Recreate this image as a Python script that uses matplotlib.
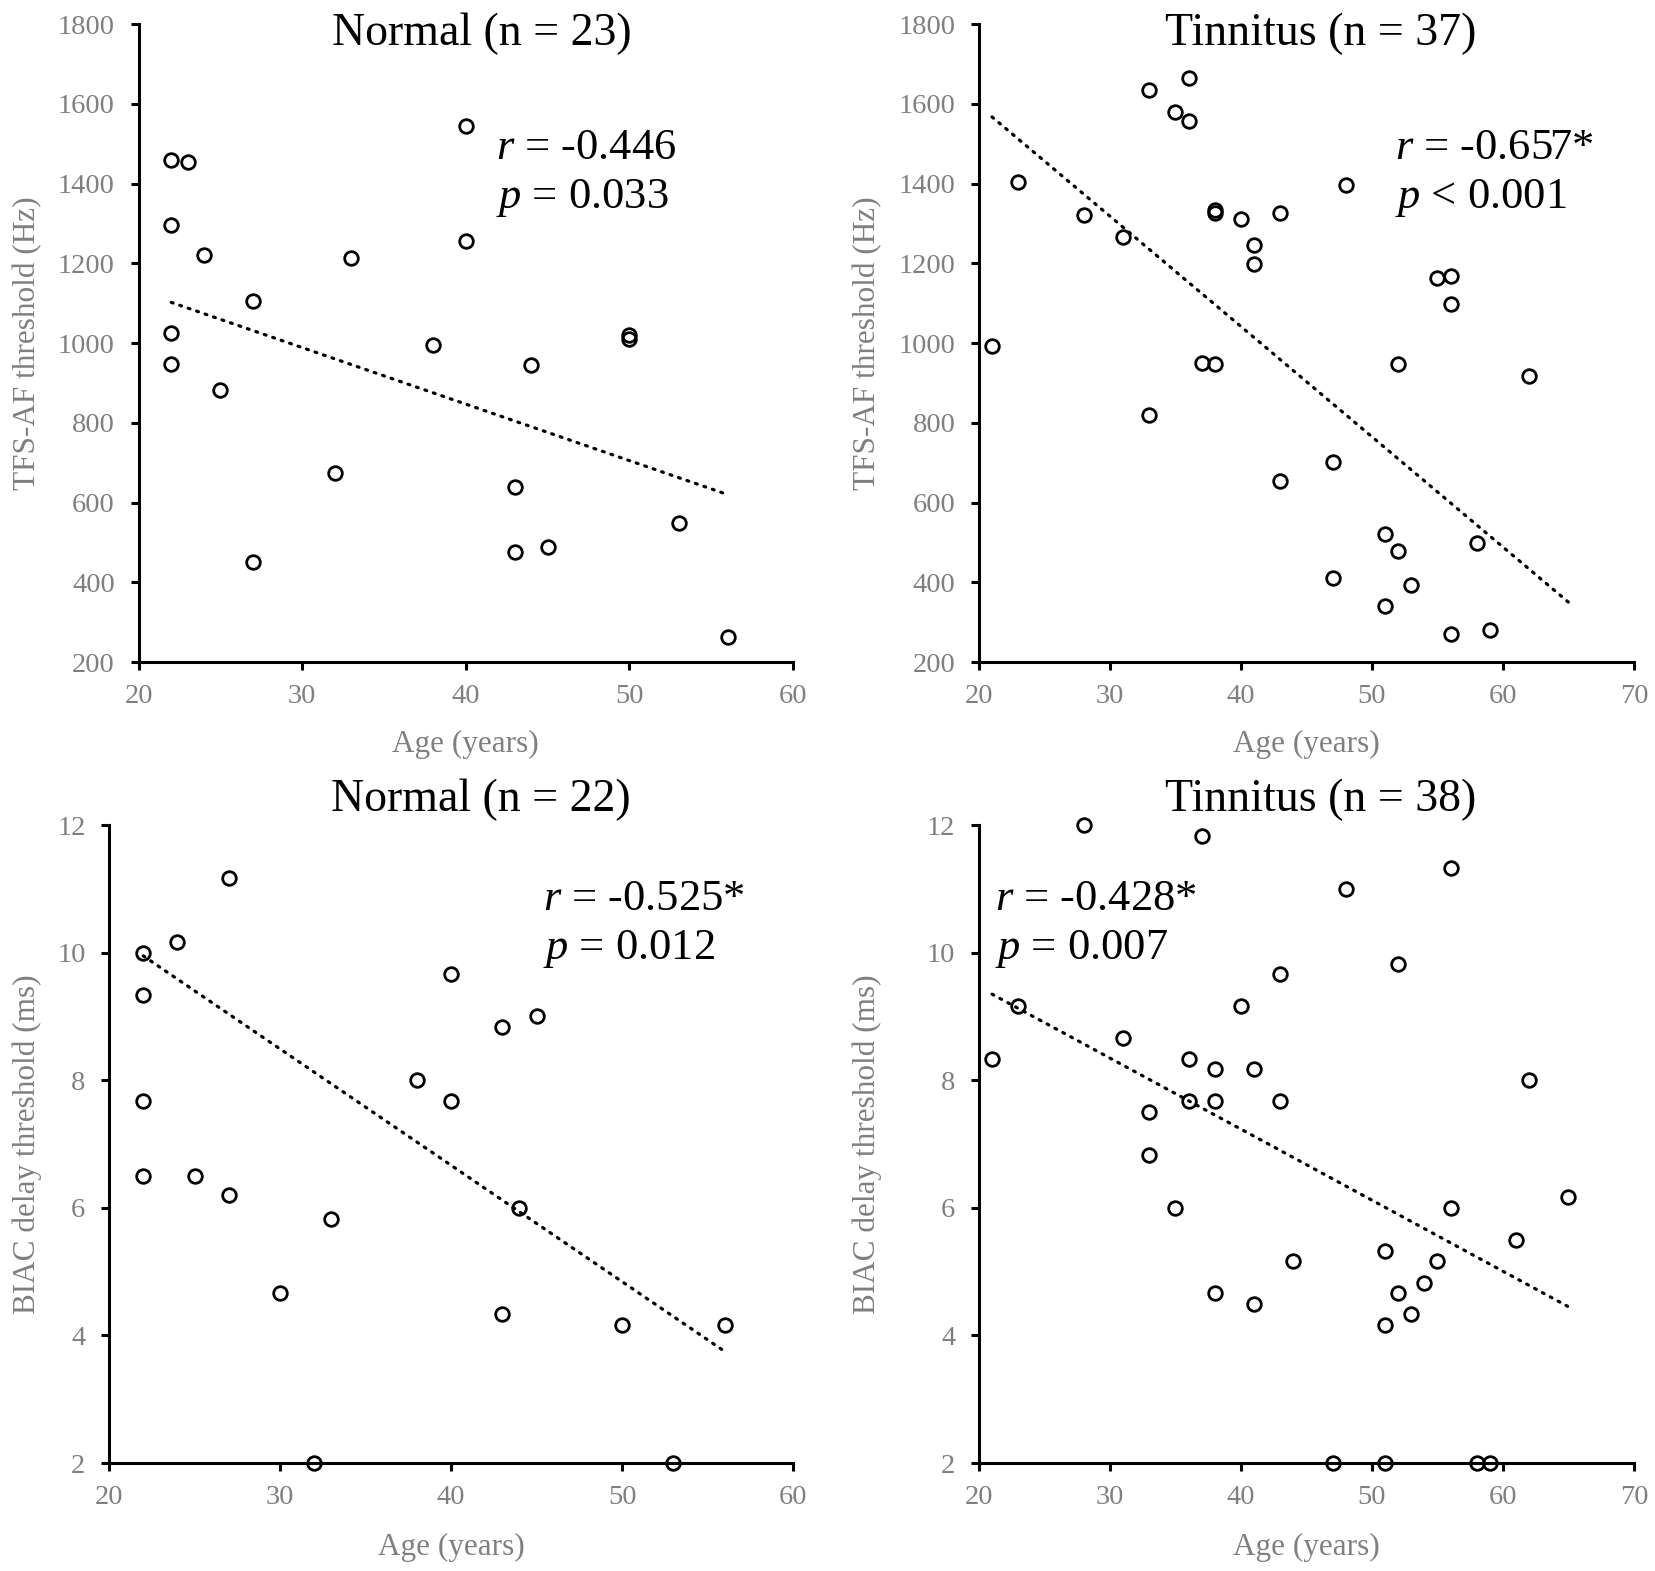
import matplotlib
matplotlib.use('Agg')
import matplotlib.pyplot as plt

plt.rcParams['font.family'] = ['Liberation Serif', 'DejaVu Serif']
plt.rcParams['mathtext.fontset'] = 'custom'
plt.rcParams['mathtext.rm'] = 'Liberation Serif'
plt.rcParams['mathtext.it'] = 'Liberation Serif:italic'

# top left: Normal, TFS-AF
tfs_norm_age = [22, 23, 22, 24, 27, 22, 22, 25, 33, 32, 27, 40, 40, 38, 44, 50, 50, 43, 43, 45, 53, 56]
tfs_norm_val = [1460, 1455, 1295, 1220, 1105, 1025, 948, 882, 1213, 675, 450, 1545, 1255, 995, 945,
                1020, 1010, 640, 475, 488, 548, 262]
tfs_norm_trend_x = [22, 56]
tfs_norm_trend_y = [1102, 620]

# top right: Tinnitus, TFS-AF
tfs_tin_age = [21, 23, 28, 31, 33, 35, 36, 36, 38, 38, 40, 41, 41, 43, 48, 37, 38, 33, 43, 47, 47,
               51, 52, 53, 51, 52, 55, 56, 56, 58, 56, 59, 62]
tfs_tin_val = [993, 1405, 1322, 1265, 1635, 1580, 1665, 1558, 1333, 1325, 1310, 1245, 1197, 1325,
               1397, 950, 948, 820, 655, 702, 410, 522, 478, 392, 340, 948, 1162, 1168, 1097, 498,
               270, 280, 917]
tfs_tin_trend_x = [21, 65]
tfs_tin_trend_y = [1567, 350]

# bottom left: Normal, BIAC
biac_norm_age = [22, 22, 22, 22, 24, 25, 27, 27, 30, 32, 33, 38, 40, 40, 43, 43, 44, 45, 50, 53, 56]
biac_norm_val = [10.0, 9.33, 7.67, 6.5, 10.17, 6.5, 11.17, 6.2, 4.67, 2.0, 5.83, 8.0, 9.67, 7.67,
                 8.83, 4.33, 6.0, 9.0, 4.17, 2.0, 4.17]
biac_norm_trend_x = [22, 56]
biac_norm_trend_y = [9.95, 3.75]

# bottom right: Tinnitus, BIAC
biac_tin_age = [21, 23, 28, 31, 33, 33, 35, 36, 36, 37, 38, 38, 38, 40, 41, 41, 43, 43, 44, 47, 48,
                51, 51, 51, 52, 52, 53, 54, 55, 56, 56, 58, 59, 61, 62, 65]
biac_tin_val = [8.33, 9.17, 12.0, 8.67, 7.5, 6.83, 6.0, 8.33, 7.67, 11.83, 8.17, 7.67, 4.67, 9.17,
                8.17, 4.5, 9.67, 7.67, 5.17, 2.0, 11.0, 5.33, 4.17, 2.0, 9.83, 4.67, 4.33, 4.83,
                5.17, 11.33, 6.0, 2.0, 2.0, 5.5, 8.0, 6.17]
biac_tin_trend_x = [21, 65]
biac_tin_trend_y = [9.35, 4.45]

gray = '#7f7f7f'

fig = plt.figure(figsize=(16.55, 15.71), dpi=100)
ax1 = fig.add_axes([0.0837, 0.5786, 0.3955, 0.4061])
ax2 = fig.add_axes([0.5915, 0.5786, 0.3958, 0.4061])
ax3 = fig.add_axes([0.0659, 0.0687, 0.4133, 0.4061])
ax4 = fig.add_axes([0.5915, 0.0687, 0.3958, 0.4061])


def panel(ax, x, y, tx, ty, xmax, ylim, yticks, ylabel, title, title_pos, r_txt, p_txt, txt_pos,
          ylab_x, xlab_y):
    ax.plot(tx, ty, color='black', linestyle=(0, (0.6, 2.2)), linewidth=2.3,
            dash_capstyle='round', zorder=2)
    ax.plot(x, y, linestyle='none', marker='o', markersize=9.8, markerfacecolor='none',
            markeredgecolor='black', markeredgewidth=2.0, clip_on=False, zorder=3)
    ax.set_xlim(20, xmax)
    ax.set_ylim(*ylim)
    ax.set_xticks(range(20, xmax + 1, 10))
    ax.set_yticks(yticks)
    for s in ['top', 'right']:
        ax.spines[s].set_visible(False)
    for s in ['left', 'bottom']:
        ax.spines[s].set_linewidth(2.2)
    ax.tick_params(direction='out', length=6, width=2.2, labelsize=20.5, labelcolor=gray)
    ax.tick_params(axis='x', pad=10)
    ax.tick_params(axis='y', pad=11)
    ax.set_xlabel('Age (years)', fontsize=22.5, color=gray)
    ax.xaxis.set_label_coords(0.5, xlab_y)
    ax.set_ylabel(ylabel, fontsize=22.5, color=gray)
    ax.yaxis.set_label_coords(ylab_x, 0.5)
    ax.text(title_pos[0], title_pos[1], title, transform=ax.transAxes, fontsize=33,
            ha='center', va='center')
    ax.text(txt_pos[0], txt_pos[1], r_txt, transform=ax.transAxes, fontsize=32,
            ha='left', va='center')
    ax.text(txt_pos[0], txt_pos[1] - 0.079, p_txt, transform=ax.transAxes, fontsize=32,
            ha='left', va='center')


panel(ax1, tfs_norm_age, tfs_norm_val, tfs_norm_trend_x, tfs_norm_trend_y, 60, (200, 1800),
      range(200, 1801, 200), 'TFS-AF threshold (Hz)', 'Normal (n = 23)', (0.525, 0.984),
      r'$\it{r}$ = -0.446', r'$\it{p}$ = 0.033', (0.546, 0.806), -0.147, -0.107)
panel(ax2, tfs_tin_age, tfs_tin_val, tfs_tin_trend_x, tfs_tin_trend_y, 70, (200, 1800),
      range(200, 1801, 200), 'TFS-AF threshold (Hz)', 'Tinnitus (n = 37)', (0.522, 0.984),
      r'$\it{r}$ = -0.657*', r'$\it{p}$ < 0.001', (0.635, 0.806), -0.148, -0.107)
panel(ax3, biac_norm_age, biac_norm_val, biac_norm_trend_x, biac_norm_trend_y, 60, (2, 12),
      range(2, 13, 2), 'BIAC delay threshold (ms)', 'Normal (n = 22)', (0.544, 1.04),
      r'$\it{r}$ = -0.525*', r'$\it{p}$ = 0.012', (0.635, 0.884), -0.098, -0.11)
panel(ax4, biac_tin_age, biac_tin_val, biac_tin_trend_x, biac_tin_trend_y, 70, (2, 12),
      range(2, 13, 2), 'BIAC delay threshold (ms)', 'Tinnitus (n = 38)', (0.522, 1.04),
      r'$\it{r}$ = -0.428*', r'$\it{p}$ = 0.007', (0.025, 0.884), -0.148, -0.11)

fig.savefig('out.png', dpi=100)
